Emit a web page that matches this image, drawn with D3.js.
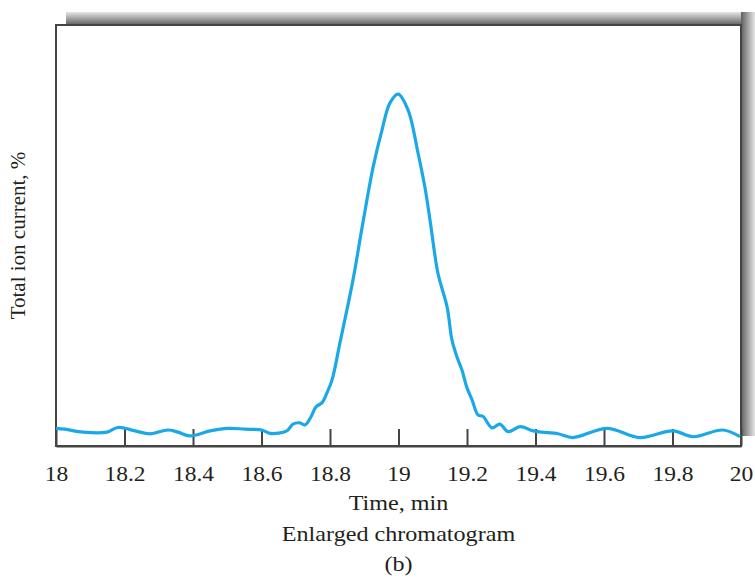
<!DOCTYPE html>
<html>
<head>
<meta charset="utf-8">
<script src="https://cdn.jsdelivr.net/npm/d3@7"></script>
<style>
  body { margin: 0; background: #fff; }
  svg { display: block; }
  text { font-family: "Liberation Serif", "DejaVu Serif", serif; fill: #231f20; }
</style>
</head>
<body>
<svg id="chart" width="755" height="579"></svg>
<script>
// time (min) and total ion current (%)
const times = [18.000, 18.026, 18.079, 18.149, 18.181, 18.231, 18.274, 18.327, 18.356, 18.391,
  18.450, 18.502, 18.552, 18.601, 18.625, 18.674, 18.692, 18.712, 18.727, 18.745,
  18.759, 18.777, 18.791, 18.806, 18.829, 18.867, 18.896, 18.926, 18.952, 18.975,
  18.999, 19.028, 19.057, 19.077, 19.092, 19.115, 19.142, 19.156, 19.171, 19.185,
  19.200, 19.215, 19.232, 19.247, 19.273, 19.296, 19.320, 19.355, 19.393, 19.419,
  19.466, 19.509, 19.609, 19.705, 19.801, 19.860, 19.947, 19.997];
const current = [4.2, 4.0, 3.3, 3.3, 4.4, 3.6, 2.9, 3.8, 3.3, 2.4,
  3.6, 4.2, 4.0, 3.8, 3.0, 3.6, 5.2, 5.5, 5.0, 7.0,
  9.3, 10.3, 12.6, 15.7, 24.5, 39.4, 53.0, 66.3, 75.1, 81.5,
  83.6, 79.8, 69.6, 61.5, 53.7, 41.1, 33.0, 25.2, 21.1, 18.1,
  13.8, 10.9, 7.4, 7.0, 4.3, 5.2, 3.4, 4.6, 3.6, 3.3,
  2.9, 2.0, 4.2, 2.0, 3.6, 2.2, 3.8, 2.2];
const xTicks = [18, 18.2, 18.4, 18.6, 18.8, 19, 19.2, 19.4, 19.6, 19.8, 20];
const xTitle = "Time, min";
const yTitle = "Total ion current, %";
const caption = "Enlarged chromatogram";
const panel = "(b)";

const svg = d3.select("#chart");
const m = { left: 56, right: 741, top: 25, bottom: 446 };
const stretch = "scale(1.15,1)";

const x = d3.scaleLinear().domain([18, 20]).range([m.left, m.right]);
const y = d3.scaleLinear().domain([0, 100]).range([m.bottom, m.top]);

// drop shadow behind the frame
const defs = svg.append("defs");
const gTop = defs.append("linearGradient").attr("id", "shTop")
    .attr("x1", 0).attr("y1", 0).attr("x2", 0).attr("y2", 1);
gTop.append("stop").attr("offset", "0%").attr("stop-color", "#e6e6e6");
gTop.append("stop").attr("offset", "100%").attr("stop-color", "#5f5f5f");
const gRight = defs.append("linearGradient").attr("id", "shRight")
    .attr("x1", 0).attr("y1", 0).attr("x2", 1).attr("y2", 0);
gRight.append("stop").attr("offset", "0%").attr("stop-color", "#5f5f5f");
gRight.append("stop").attr("offset", "100%").attr("stop-color", "#e6e6e6");

svg.append("rect").attr("x", m.left + 10).attr("y", m.top - 13)
    .attr("width", 755 - m.left - 10).attr("height", 13).attr("fill", "url(#shTop)");
svg.append("rect").attr("x", m.right).attr("y", m.top - 13)
    .attr("width", 14).attr("height", m.bottom - 10 - m.top + 13).attr("fill", "url(#shRight)");

svg.append("rect").attr("x", m.left).attr("y", m.top)
    .attr("width", m.right - m.left).attr("height", m.bottom - m.top)
    .attr("fill", "#fff").attr("stroke", "#444").attr("stroke-width", 2);

// bottom axis, ticks pointing into the plot
const axis = svg.append("g").attr("transform", `translate(0,${m.bottom})`)
    .call(d3.axisBottom(x).tickValues(xTicks).tickSizeInner(-17).tickSizeOuter(0)
        .tickPadding(20).tickFormat(d => String(+d.toFixed(1))));
axis.select(".domain").attr("stroke", "#444").attr("stroke-width", 2);
axis.selectAll(".tick line").attr("stroke", "#444").attr("stroke-width", 2);
axis.selectAll(".tick text").attr("font-size", 21).attr("fill", "#231f20")
    .attr("font-family", "Liberation Serif, serif").attr("transform", "scale(1.12,1)");

// chromatogram trace
const pts = times.map((t, i) => [t, current[i]]);
svg.append("path").datum(pts)
    .attr("fill", "none").attr("stroke", "#1ba8e6").attr("stroke-width", 3.2)
    .attr("stroke-linejoin", "round")
    .attr("d", d3.line().x(d => x(d[0])).y(d => y(d[1])).curve(d3.curveCatmullRom.alpha(0.5)));

// titles
const mid = x(19);
[[xTitle, 510], [caption, 541], [panel, 571]].forEach(([s, yy]) => {
  svg.append("g").attr("transform", `translate(${mid},${yy})`)
    .append("text").attr("text-anchor", "middle").attr("font-size", 21)
    .attr("transform", stretch).text(s);
});
svg.append("text").attr("transform", `translate(25,${(m.top + m.bottom) / 2}) rotate(-90)`)
    .attr("text-anchor", "middle").attr("font-size", 21).text(yTitle);
</script>
</body>
</html>
